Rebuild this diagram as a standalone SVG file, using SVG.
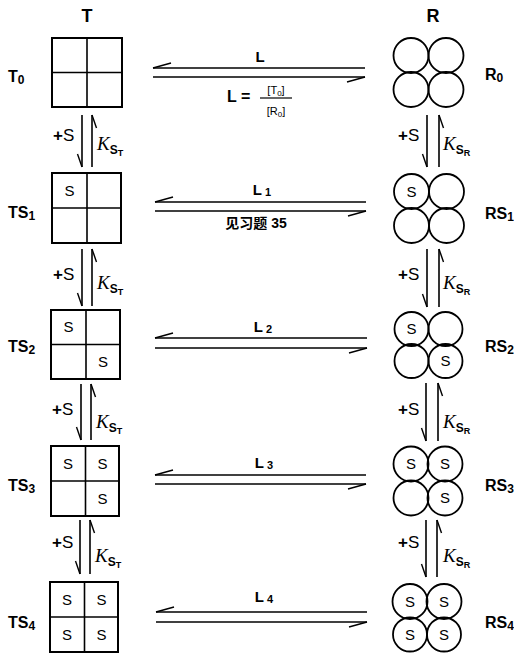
<svg xmlns="http://www.w3.org/2000/svg" width="514" height="655" viewBox="0 0 514 655">
<style>
.box{fill:none;stroke:#000;stroke-width:2}
.div{stroke:#000;stroke-width:1.6}
.cir{fill:none;stroke:#000;stroke-width:1.8}
.ln{stroke:#000;stroke-width:1.6;fill:none}
.hd{font-family:"Liberation Sans",Arial,sans-serif;font-weight:bold;font-size:18px;text-anchor:middle}
.lab{font-family:"Liberation Sans",Arial,sans-serif;font-weight:bold;font-size:16px}
.s{font-family:"Liberation Sans",Arial,sans-serif;font-size:15px;text-anchor:middle}
.ps{font-family:"Liberation Sans",Arial,sans-serif;font-size:17px}
.k{font-family:"Liberation Serif","Times New Roman",serif;font-style:italic;font-size:19px}
.sub{font-family:"Liberation Sans",Arial,sans-serif;font-style:normal;font-weight:bold}
.L{font-family:"Liberation Sans",Arial,sans-serif;font-weight:bold;font-size:15px;text-anchor:middle}
.fr{font-family:"Liberation Sans",Arial,sans-serif;font-size:11px;text-anchor:middle}
.cjk{font-family:"Liberation Sans","Noto Sans CJK SC",sans-serif;font-weight:bold;font-size:14px;text-anchor:middle}
</style>
<defs>
<marker id="hh" markerUnits="userSpaceOnUse" markerWidth="30" markerHeight="30" refX="0" refY="0" viewBox="-25 -10 30 20" orient="auto" overflow="visible">
<path d="M0,0 L-18,5" stroke="#000" stroke-width="1.4" fill="none"/>
</marker>
<marker id="hv" markerUnits="userSpaceOnUse" markerWidth="30" markerHeight="30" refX="0" refY="0" viewBox="-25 -10 30 20" orient="auto" overflow="visible">
<path d="M0,0 L-13,4.5" stroke="#000" stroke-width="1.4" fill="none"/>
</marker>
</defs>
<rect width="514" height="655" fill="#fff"/>

<text class="hd" x="87" y="22">T</text>
<text class="hd" x="433" y="22">R</text>

<!-- T nodes -->
<g id="T0">
<rect class="box" x="52" y="38" width="70" height="69"/>
<line class="div" x1="87" y1="38" x2="87" y2="107"/><line class="div" x1="52" y1="72.5" x2="122" y2="72.5"/>
<text class="lab" x="8" y="82">T<tspan font-size="12" dy="2">0</tspan></text>
</g>
<g id="TS1">
<rect class="box" x="52" y="173" width="69" height="70"/>
<line class="div" x1="87" y1="173" x2="87" y2="243"/><line class="div" x1="52" y1="208" x2="121" y2="208"/>
<text class="s" x="69.5" y="196">S</text>
<text class="lab" x="8" y="218">TS<tspan font-size="12" dy="2">1</tspan></text>
</g>
<g id="TS2">
<rect class="box" x="51" y="310" width="69" height="69"/>
<line class="div" x1="86" y1="310" x2="86" y2="379"/><line class="div" x1="51" y1="344.5" x2="120" y2="344.5"/>
<text class="s" x="68.5" y="332">S</text>
<text class="s" x="103" y="367">S</text>
<text class="lab" x="8" y="352">TS<tspan font-size="12" dy="2">2</tspan></text>
</g>
<g id="TS3">
<rect class="box" x="51" y="446" width="68" height="70"/>
<line class="div" x1="85.5" y1="446" x2="85.5" y2="516"/><line class="div" x1="51" y1="481" x2="119" y2="481"/>
<text class="s" x="68" y="469">S</text>
<text class="s" x="102.5" y="469">S</text>
<text class="s" x="102.5" y="504">S</text>
<text class="lab" x="8" y="491">TS<tspan font-size="12" dy="2">3</tspan></text>
</g>
<g id="TS4">
<rect class="box" x="50" y="582" width="68" height="70"/>
<line class="div" x1="84.5" y1="582" x2="84.5" y2="652"/><line class="div" x1="50" y1="617" x2="118" y2="617"/>
<text class="s" x="67" y="605">S</text>
<text class="s" x="101.5" y="605">S</text>
<text class="s" x="67" y="640">S</text>
<text class="s" x="101.5" y="640">S</text>
<text class="lab" x="8" y="628">TS<tspan font-size="12" dy="2">4</tspan></text>
</g>

<!-- R nodes -->
<g id="R0">
<circle class="cir" cx="411" cy="55.5" r="17.5"/><circle class="cir" cx="446" cy="55.5" r="17.5"/>
<circle class="cir" cx="411" cy="89.5" r="17.5"/><circle class="cir" cx="446" cy="89.5" r="17.5"/>
<text class="lab" x="485" y="80">R<tspan font-size="12" dy="2">0</tspan></text>
</g>
<g id="RS1">
<circle class="cir" cx="411.5" cy="191.5" r="17.5"/><circle class="cir" cx="446.5" cy="191.5" r="17.5"/>
<circle class="cir" cx="411.5" cy="225.5" r="17.5"/><circle class="cir" cx="446.5" cy="225.5" r="17.5"/>
<text class="s" x="411.5" y="197">S</text>
<text class="lab" x="485" y="219">RS<tspan font-size="12" dy="2">1</tspan></text>
</g>
<g id="RS2">
<circle class="cir" cx="411.5" cy="329" r="17"/><circle class="cir" cx="445.5" cy="329" r="17"/>
<circle class="cir" cx="411.5" cy="361" r="17"/><circle class="cir" cx="445.5" cy="361" r="17"/>
<text class="s" x="411.5" y="334">S</text>
<text class="s" x="445.5" y="366">S</text>
<text class="lab" x="485" y="352">RS<tspan font-size="12" dy="2">2</tspan></text>
</g>
<g id="RS3">
<circle class="cir" cx="411" cy="464" r="17.5"/><circle class="cir" cx="445" cy="464" r="17.5"/>
<circle class="cir" cx="411" cy="498" r="17.5"/><circle class="cir" cx="445" cy="498" r="17.5"/>
<text class="s" x="411" y="469">S</text>
<text class="s" x="445" y="469">S</text>
<text class="s" x="445" y="503">S</text>
<text class="lab" x="485" y="491">RS<tspan font-size="12" dy="2">3</tspan></text>
</g>
<g id="RS4">
<circle class="cir" cx="410" cy="601.5" r="17.5"/><circle class="cir" cx="444" cy="601.5" r="17.5"/>
<circle class="cir" cx="410" cy="634.5" r="17"/><circle class="cir" cx="444" cy="634.5" r="17"/>
<text class="s" x="410" y="607">S</text>
<text class="s" x="444" y="607">S</text>
<text class="s" x="410" y="640">S</text>
<text class="s" x="444" y="640">S</text>
<text class="lab" x="485" y="628">RS<tspan font-size="12" dy="2">4</tspan></text>
</g>

<!-- connectors -->
<g id="connectors">
<line class="ln" x1="365" y1="68" x2="153" y2="68" marker-end="url(#hh)"/>
<line class="ln" x1="153" y1="77" x2="365" y2="77" marker-end="url(#hh)"/>
<line class="ln" x1="366" y1="202" x2="155" y2="202" marker-end="url(#hh)"/>
<line class="ln" x1="155" y1="211" x2="366" y2="211" marker-end="url(#hh)"/>
<line class="ln" x1="367" y1="338" x2="155" y2="338" marker-end="url(#hh)"/>
<line class="ln" x1="155" y1="348" x2="367" y2="348" marker-end="url(#hh)"/>
<line class="ln" x1="366" y1="475" x2="155" y2="475" marker-end="url(#hh)"/>
<line class="ln" x1="155" y1="484" x2="366" y2="484" marker-end="url(#hh)"/>
<line class="ln" x1="367" y1="612" x2="156" y2="612" marker-end="url(#hh)"/>
<line class="ln" x1="156" y1="622" x2="367" y2="622" marker-end="url(#hh)"/>
<line class="ln" x1="82" y1="115" x2="82" y2="167" marker-end="url(#hv)"/>
<line class="ln" x1="92" y1="167" x2="92" y2="115" marker-end="url(#hv)"/>
<line class="ln" x1="82" y1="249" x2="82" y2="306" marker-end="url(#hv)"/>
<line class="ln" x1="92" y1="306" x2="92" y2="249" marker-end="url(#hv)"/>
<line class="ln" x1="81" y1="384" x2="81" y2="440" marker-end="url(#hv)"/>
<line class="ln" x1="91" y1="440" x2="91" y2="384" marker-end="url(#hv)"/>
<line class="ln" x1="80" y1="520" x2="80" y2="574" marker-end="url(#hv)"/>
<line class="ln" x1="90" y1="574" x2="90" y2="520" marker-end="url(#hv)"/>
<line class="ln" x1="427" y1="115" x2="427" y2="167" marker-end="url(#hv)"/>
<line class="ln" x1="439" y1="167" x2="439" y2="115" marker-end="url(#hv)"/>
<line class="ln" x1="427" y1="249" x2="427" y2="307" marker-end="url(#hv)"/>
<line class="ln" x1="439" y1="307" x2="439" y2="249" marker-end="url(#hv)"/>
<line class="ln" x1="426" y1="383" x2="426" y2="441" marker-end="url(#hv)"/>
<line class="ln" x1="438" y1="441" x2="438" y2="383" marker-end="url(#hv)"/>
<line class="ln" x1="426" y1="520" x2="426" y2="577" marker-end="url(#hv)"/>
<line class="ln" x1="437" y1="577" x2="437" y2="520" marker-end="url(#hv)"/>
</g>

<g id="labels">
<text class="L" x="260" y="62">L</text>
<text class="lab" x="227" y="102" font-size="18">L =</text>
<text class="fr" x="276" y="94">[T<tspan font-size="8" dy="2">0</tspan><tspan dy="-2">]</tspan></text>
<line x1="260" y1="98" x2="292" y2="98" stroke="#000" stroke-width="1.2"/>
<text class="fr" x="276" y="115">[R<tspan font-size="8" dy="2">0</tspan><tspan dy="-2">]</tspan></text>
<text class="L" x="262" y="195">L<tspan font-size="11" dy="1"> 1</tspan></text>
<text class="cjk" x="256" y="228">见习题 35</text>
<text class="L" x="263" y="332">L<tspan font-size="11" dy="1"> 2</tspan></text>
<text class="L" x="264" y="468">L<tspan font-size="11" dy="1"> 3</tspan></text>
<text class="L" x="264" y="602">L<tspan font-size="11" dy="1"> 4</tspan></text>

<text class="ps" x="53" y="141"><tspan font-weight="bold">+</tspan>S</text>
<text class="k" x="97" y="150">K<tspan class="sub" font-size="12" dy="4">S</tspan><tspan class="sub" font-size="9" dy="2">T</tspan></text>
<text class="ps" x="398" y="141"><tspan font-weight="bold">+</tspan>S</text>
<text class="k" x="443" y="150">K<tspan class="sub" font-size="12" dy="4">S</tspan><tspan class="sub" font-size="9" dy="2">R</tspan></text>

<text class="ps" x="53" y="280"><tspan font-weight="bold">+</tspan>S</text>
<text class="k" x="97" y="289">K<tspan class="sub" font-size="12" dy="4">S</tspan><tspan class="sub" font-size="9" dy="2">T</tspan></text>
<text class="ps" x="398" y="280"><tspan font-weight="bold">+</tspan>S</text>
<text class="k" x="443" y="289">K<tspan class="sub" font-size="12" dy="4">S</tspan><tspan class="sub" font-size="9" dy="2">R</tspan></text>

<text class="ps" x="52" y="415"><tspan font-weight="bold">+</tspan>S</text>
<text class="k" x="96" y="428">K<tspan class="sub" font-size="12" dy="4">S</tspan><tspan class="sub" font-size="9" dy="2">T</tspan></text>
<text class="ps" x="398" y="415"><tspan font-weight="bold">+</tspan>S</text>
<text class="k" x="443" y="428">K<tspan class="sub" font-size="12" dy="4">S</tspan><tspan class="sub" font-size="9" dy="2">R</tspan></text>

<text class="ps" x="52" y="548"><tspan font-weight="bold">+</tspan>S</text>
<text class="k" x="95" y="562">K<tspan class="sub" font-size="12" dy="4">S</tspan><tspan class="sub" font-size="9" dy="2">T</tspan></text>
<text class="ps" x="398" y="548"><tspan font-weight="bold">+</tspan>S</text>
<text class="k" x="443" y="562">K<tspan class="sub" font-size="12" dy="4">S</tspan><tspan class="sub" font-size="9" dy="2">R</tspan></text>
</g>
</svg>
